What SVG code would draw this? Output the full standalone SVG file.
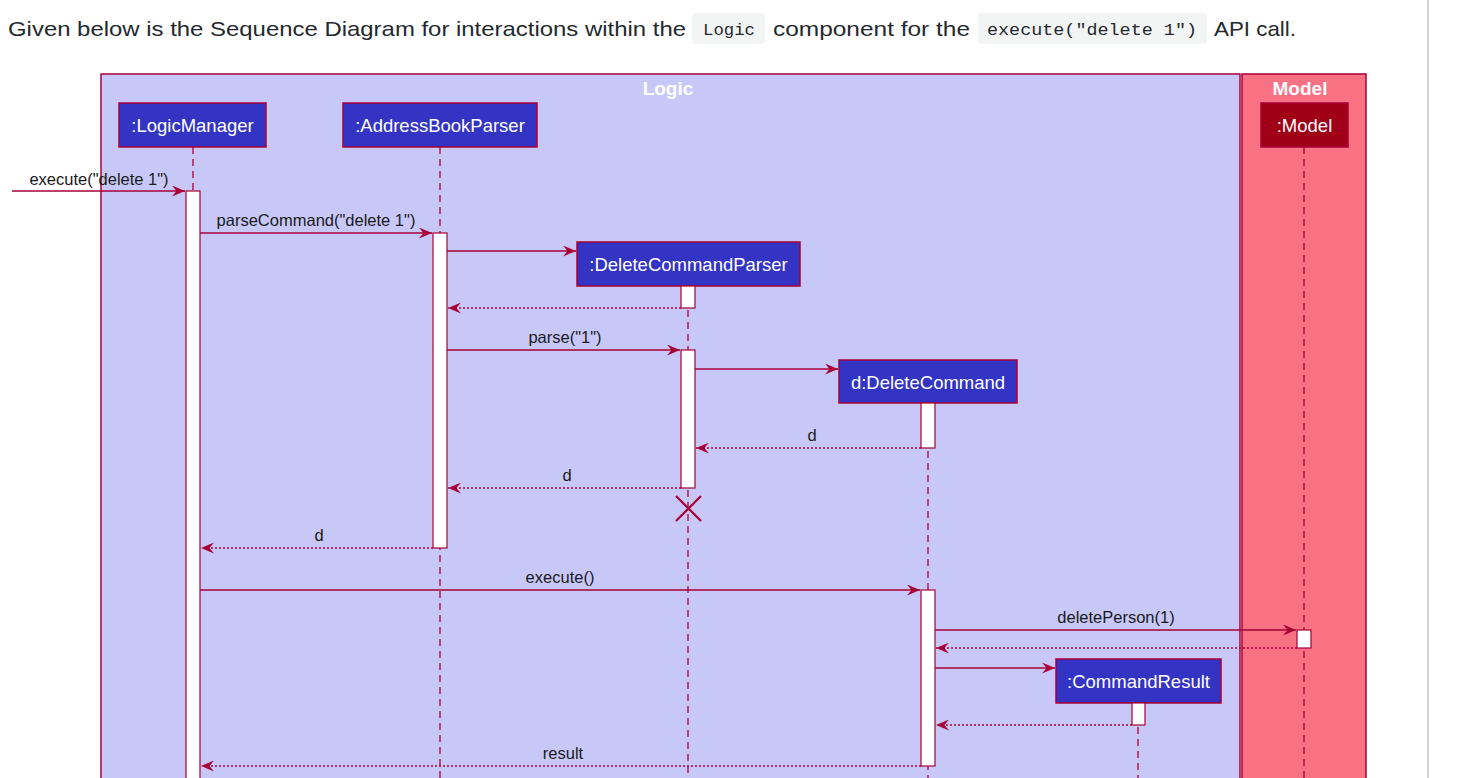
<svg xmlns="http://www.w3.org/2000/svg" width="1461" height="778" viewBox="0 0 1461 778">
<defs>
<marker id="ah" viewBox="0 0 13 11" refX="13" refY="5.5" markerWidth="13" markerHeight="11" markerUnits="userSpaceOnUse" orient="auto">
<polygon points="0,0 13,5.5 0,11 4.5,5.5" fill="#A80036"/>
</marker>
</defs>
<style>
.hdr{font-family:"Liberation Sans",Arial,sans-serif;font-size:21px;fill:#24292e}
.code{font-family:"Liberation Mono","DejaVu Sans Mono",monospace;font-size:17px;fill:#24292e}
.codebg{fill:#f3f4f4}
.frame{stroke:#A80036;stroke-width:1.5}
.ftitle{font-family:"Liberation Sans",Arial,sans-serif;font-size:19px;font-weight:bold;fill:#ffffff;text-anchor:middle}
.part{fill:#3333C4;stroke:#A80036;stroke-width:1.5}
.ptext{font-family:"Liberation Sans",Arial,sans-serif;font-size:18.5px;fill:#ffffff;text-anchor:middle}
.life{stroke:#A80036;stroke-width:1.3;stroke-dasharray:7,5;fill:none}
.act{fill:#ffffff;stroke:#A80036;stroke-width:1.2}
.msg{stroke:#A80036;stroke-width:1.3;fill:none;marker-end:url(#ah)}
.ret{stroke:#A80036;stroke-width:1.3;stroke-dasharray:2,2;fill:none;marker-end:url(#ah)}
.lbl{font-family:"Liberation Sans",Arial,sans-serif;font-size:16.5px;fill:#1a1a1a;text-anchor:middle}
</style>
<rect width="1461" height="778" fill="#ffffff"/>
<line x1="1428" y1="0" x2="1428" y2="778" stroke="#d4d4d4" stroke-width="2"/>

<g id="header">
<text class="hdr" x="8" y="36" textLength="678" lengthAdjust="spacingAndGlyphs">Given below is the Sequence Diagram for interactions within the</text>
<rect class="codebg" x="692" y="13" width="73" height="31" rx="4"/>
<text class="code" x="703" y="35" textLength="52" lengthAdjust="spacingAndGlyphs">Logic</text>
<text class="hdr" x="773" y="36" textLength="197" lengthAdjust="spacingAndGlyphs">component for the</text>
<rect class="codebg" x="978" y="13" width="229" height="31" rx="4"/>
<text class="code" x="987" y="35" textLength="210" lengthAdjust="spacingAndGlyphs">execute("delete 1")</text>
<text class="hdr" x="1214" y="36" textLength="82" lengthAdjust="spacingAndGlyphs">API call.</text>
</g>

<g id="frame-logic">
<rect class="frame" x="101" y="74" width="1139" height="720" fill="#C8C8F8"/>
<text class="ftitle" x="668" y="95">Logic</text>
</g>
<g id="frame-model">
<rect class="frame" x="1242" y="74" width="124" height="720" fill="#F87284"/>
<text class="ftitle" x="1300" y="95">Model</text>
</g>

<g id="lifelines">
<line class="life" x1="193" y1="147" x2="193" y2="778"/>
<line class="life" x1="440" y1="147" x2="440" y2="778"/>
<line class="life" x1="688" y1="286" x2="688" y2="778"/>
<line class="life" x1="928" y1="403" x2="928" y2="778"/>
<line class="life" x1="1138" y1="703" x2="1138" y2="778"/>
<line class="life" x1="1304" y1="147" x2="1304" y2="778"/>
</g>

<g id="LogicManager">
<rect class="part" x="119" y="103" width="147" height="44"/>
<text class="ptext" x="192.5" y="132">:LogicManager</text>
<rect class="act" x="186" y="191" width="14" height="600"/>
</g>
<g id="AddressBookParser">
<rect class="part" x="343" y="103" width="194" height="44"/>
<text class="ptext" x="440" y="132">:AddressBookParser</text>
<rect class="act" x="433" y="233" width="14" height="315"/>
</g>
<g id="DeleteCommandParser">
<rect class="part" x="577" y="242" width="223" height="44"/>
<text class="ptext" x="688.5" y="271">:DeleteCommandParser</text>
<rect class="act" x="681" y="286" width="14" height="22"/>
<rect class="act" x="681" y="350" width="14" height="138"/>
<path d="M676,496 L701,521 M701,496 L676,521" stroke="#A80036" stroke-width="2.2" fill="none"/>
</g>
<g id="DeleteCommand">
<rect class="part" x="839" y="360" width="178" height="43"/>
<text class="ptext" x="928" y="389">d:DeleteCommand</text>
<rect class="act" x="921" y="403" width="14" height="45"/>
<rect class="act" x="921" y="590" width="14" height="176"/>
</g>
<g id="Model">
<rect x="1261" y="103" width="87" height="44" fill="#A00016" stroke="#A80036" stroke-width="1.5"/>
<text class="ptext" x="1304.5" y="132">:Model</text>
<rect class="act" x="1297" y="630" width="14" height="18"/>
</g>
<g id="CommandResult">
<rect class="part" x="1056" y="659" width="165" height="44"/>
<text class="ptext" x="1138.5" y="688">:CommandResult</text>
<rect class="act" x="1132" y="703" width="13" height="22"/>
</g>

<g id="connectors">
<line class="msg" x1="12" y1="191" x2="185" y2="191"/>
<text class="lbl" x="99" y="185">execute("delete 1")</text>
<line class="msg" x1="200" y1="233" x2="432" y2="233"/>
<text class="lbl" x="316" y="226">parseCommand("delete 1")</text>
<line class="msg" x1="447" y1="251" x2="576" y2="251"/>
<line class="ret" x1="681" y1="308" x2="448" y2="308"/>
<line class="msg" x1="447" y1="350" x2="680" y2="350"/>
<text class="lbl" x="565" y="343">parse("1")</text>
<line class="msg" x1="695" y1="369" x2="838" y2="369"/>
<line class="ret" x1="921" y1="448" x2="696" y2="448"/>
<text class="lbl" x="812" y="441">d</text>
<line class="ret" x1="681" y1="488" x2="448" y2="488"/>
<text class="lbl" x="567" y="481">d</text>
<line class="ret" x1="433" y1="548" x2="201" y2="548"/>
<text class="lbl" x="319" y="541">d</text>
<line class="msg" x1="200" y1="590" x2="920" y2="590"/>
<text class="lbl" x="560" y="583">execute()</text>
<line class="msg" x1="935" y1="630" x2="1296" y2="630"/>
<text class="lbl" x="1116" y="623">deletePerson(1)</text>
<line class="ret" x1="1297" y1="648" x2="936" y2="648"/>
<line class="msg" x1="935" y1="668" x2="1055" y2="668"/>
<line class="ret" x1="1132" y1="725" x2="936" y2="725"/>
<line class="ret" x1="921" y1="766" x2="201" y2="766"/>
<text class="lbl" x="563" y="759">result</text>
</g>
</svg>
